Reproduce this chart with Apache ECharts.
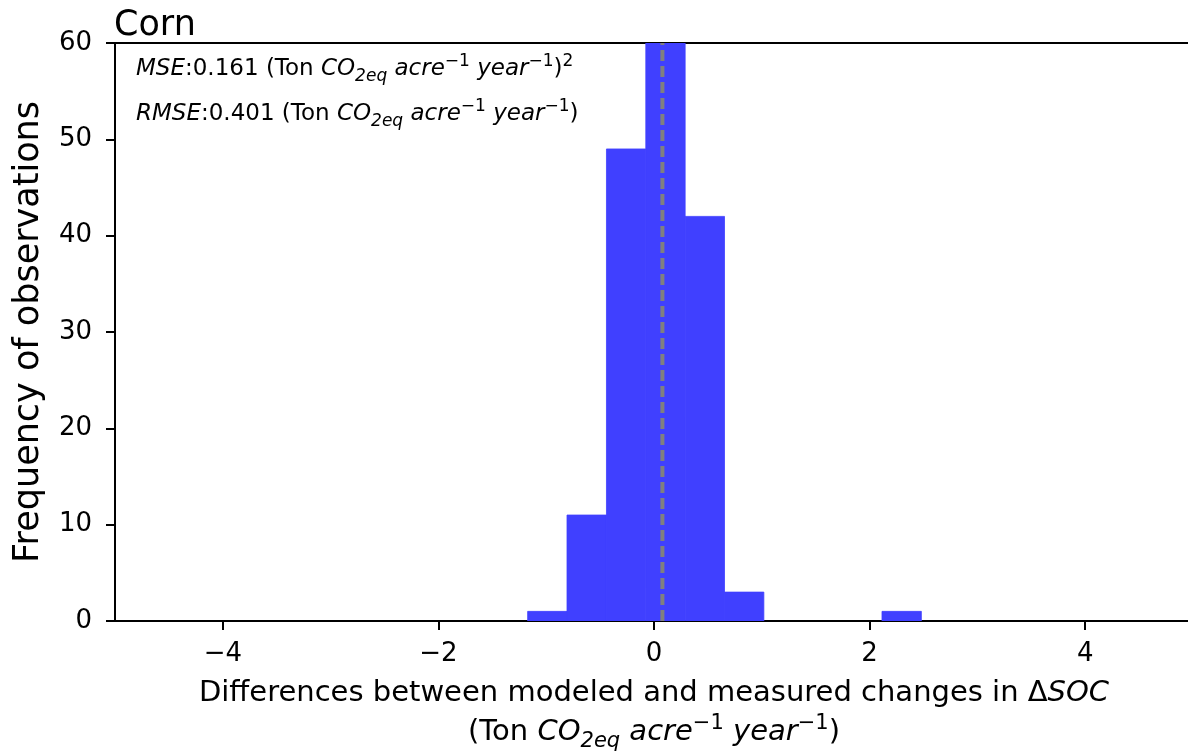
<!DOCTYPE html>
<html>
<head>
<meta charset="utf-8">
<script src="https://cdn.jsdelivr.net/npm/echarts@6/dist/echarts.min.js"></script>
<style>
html,body{margin:0;padding:0;background:#fff;}
#chart{width:1188px;height:752px;}
</style>
</head>
<body>
<div id="chart"></div>
<script>
// ---- data ----
const binEdges = [-1.172, -0.807, -0.441, -0.076, 0.289, 0.654, 1.019, 1.385, 1.750, 2.115, 2.480];
const binCounts = [1, 11, 49, 64, 42, 3, 0, 0, 0, 1];
const meanDiff = 0.078;
const xTicks = [-4, -2, 0, 2, 4];
const yTicks = [0, 10, 20, 30, 40, 50, 60];
const titleText = 'Corn';
const mseLine = '{i|MSE}{n|:0.161 (Ton }{i|CO}{sub|2eq}{n| }{i|acre}{sup|−1}{n| }{i|year}{sup|−1}{n|)}{sup|2}';
const rmseLine = '{i|RMSE}{n|:0.401 (Ton }{i|CO}{sub|2eq}{n| }{i|acre}{sup|−1}{n| }{i|year}{sup|−1}{n|)}';

const FONT = 'DejaVu Sans';
const bars = binCounts.map((c, k) => [binEdges[k], binEdges[k + 1], c]);

function richStyles(fs, lh) {
  const sfs = Math.round(fs * 0.72);
  return {
    n: {fontFamily: FONT, fontSize: fs, color: '#000', lineHeight: lh},
    i: {fontFamily: FONT, fontSize: fs, fontStyle: 'italic', color: '#000', lineHeight: lh},
    sub: {fontFamily: FONT, fontSize: sfs, fontStyle: 'italic', color: '#000', verticalAlign: 'bottom', lineHeight: sfs},
    sup: {fontFamily: FONT, fontSize: sfs, color: '#000', verticalAlign: 'top', lineHeight: sfs}
  };
}

const chart = echarts.init(document.getElementById('chart'), null, {renderer: 'canvas'});
const option = {
  backgroundColor: '#fff',
  animation: false,
  grid: {left: 115, top: 43, width: 1078, height: 578, outerBoundsMode: 'none', containLabel: false, show: false},
  xAxis: [{
    type: 'value', min: -5, max: 5,
    axisLine: {show: true, onZero: false, lineStyle: {color: '#000', width: 2}},
    axisTick: {show: true, length: 9, customValues: xTicks, lineStyle: {color: '#000', width: 2}},
    axisLabel: {customValues: xTicks, color: '#000', fontFamily: FONT, fontSize: 26, margin: 20,
      formatter: v => (v < 0 ? '−' + Math.abs(v) : String(v))},
    splitLine: {show: false},
    name: 'Differences between modeled and measured changes in Δ{i|SOC}\n{n|(Ton }{i|CO}{sub|2eq}{n| }{i|acre}{sup|−1}{n| }{i|year}{sup|−1}{n|)}',
    nameLocation: 'middle', nameGap: 53,
    nameTextStyle: {fontFamily: FONT, fontSize: 29, color: '#000', lineHeight: 39, align: 'center',
      rich: richStyles(29, 39)}
  }, {
    type: 'value', min: -5, max: 5, position: 'top',
    axisLine: {show: true, onZero: false, lineStyle: {color: '#000', width: 2}},
    axisTick: {show: false}, axisLabel: {show: false}, splitLine: {show: false}
  }],
  yAxis: {
    type: 'value', min: 0, max: 60, interval: 10, position: 'left',
    axisLine: {show: true, onZero: false, lineStyle: {color: '#000', width: 2}},
    axisTick: {show: true, length: 9, lineStyle: {color: '#000', width: 2}},
    axisLabel: {color: '#000', fontFamily: FONT, fontSize: 26, margin: 23},
    splitLine: {show: false},
    name: 'Frequency of observations', nameLocation: 'middle', nameGap: 69, nameRotate: 90,
    nameTextStyle: {fontFamily: FONT, fontSize: 35, color: '#000'}
  },
  series: [
    {
      type: 'custom', clip: true,
      data: bars,
      encode: {x: [0, 1], y: 2},
      renderItem: function (params, api) {
        if (!(api.value(2) > 0)) return;
        const p0 = api.coord([api.value(0), api.value(2)]);
        const p1 = api.coord([api.value(1), 0]);
        const rect = echarts.graphic.clipRectByRect(
          {x: p0[0], y: p0[1], width: p1[0] - p0[0], height: p1[1] - p0[1]},
          {x: params.coordSys.x, y: params.coordSys.y, width: params.coordSys.width, height: params.coordSys.height});
        if (!rect) return;
        return {type: 'rect', shape: rect, style: {fill: '#4040ff', stroke: '#4040ff', lineWidth: 0.8}};
      },
      z: 2
    },
    {
      type: 'line', data: [[meanDiff, 0], [meanDiff, 60]], symbol: 'none',
      lineStyle: {color: '#808080', width: 4, type: [11, 5]}, z: 5
    }
  ],
  graphic: [
    {type: 'text', left: 114, top: 8, style: {text: titleText, fontFamily: FONT, fontSize: 35, fill: '#000'}},
    {type: 'text', left: 136, top: 53, style: {text: mseLine, rich: richStyles(23, 32)}},
    {type: 'text', left: 136, top: 98, style: {text: rmseLine, rich: richStyles(23, 32)}}
  ]
};
chart.setOption(option);
</script>
</body>
</html>
